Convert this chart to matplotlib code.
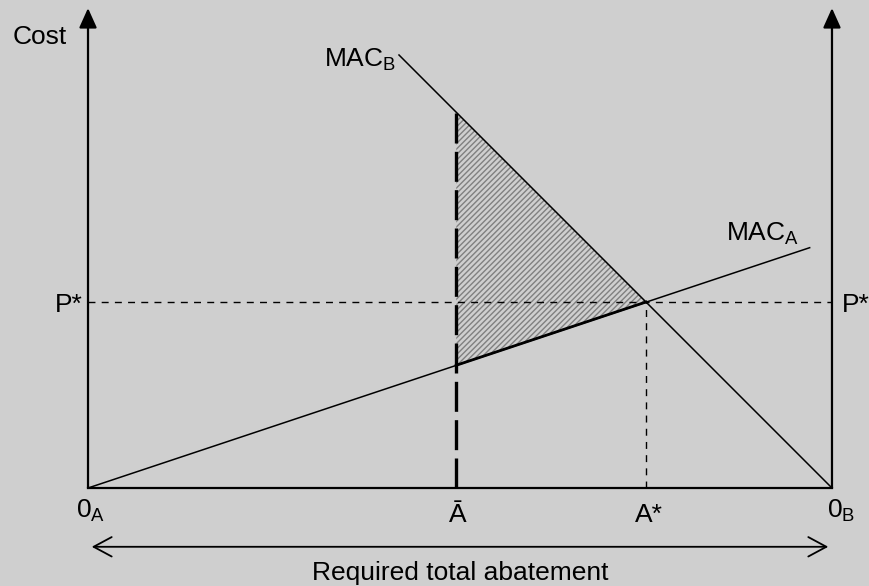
import matplotlib
matplotlib.use("Agg")
import matplotlib.pyplot as plt
from matplotlib.patches import FancyArrowPatch, Polygon

# values (0_A = 0, 0_B = 100)
x_left, x_right = 0, 100
a_bar = 49.5
a_star = 75
p_star = 25
mac_a_x = [0, 97]
mac_a_y = [0, 32.3]
mac_b_x = [41.8, 100]
mac_b_y = [58.2, 0]
triangle = [(49.5, 50.5), (75, 25), (49.5, 16.5)]
axis_top = 64.5

plt.rcParams["font.family"] = ["Liberation Sans", "DejaVu Sans"]
plt.rcParams["mathtext.fontset"] = "custom"
plt.rcParams["mathtext.rm"] = "Liberation Sans"
plt.rcParams["hatch.linewidth"] = 1.0

bg = "#cfcfcf"
fig = plt.figure(figsize=(8.7, 5.86), dpi=100, facecolor=bg)
ax = fig.add_axes([0, 0, 1, 1], facecolor=bg)
ax.set_xlim(-11.83, 105.11)
ax.set_ylim(-13.17, 65.59)
ax.axis("off")

# shaded triangle
ax.add_patch(Polygon(triangle, closed=True, facecolor=bg, edgecolor="#808080",
                     lw=0, hatch="//////", zorder=1))

# vertical axes with filled arrowheads
for xv in (x_left, x_right):
    ax.add_patch(FancyArrowPatch((xv, 0), (xv, axis_top),
                                 arrowstyle="-|>,head_length=12,head_width=5.4",
                                 mutation_scale=1, lw=1.6, color="k",
                                 shrinkA=0, shrinkB=0, zorder=4))
ax.plot([x_left, x_right], [0, 0], color="k", lw=1.6, zorder=4)

# P* and A* guides
ax.plot([x_left, x_right], [p_star, p_star], color="k", lw=1.0,
        dashes=(5, 4.5), zorder=2)
ax.plot([a_star, a_star], [0, p_star], color="k", lw=1.0,
        dashes=(5, 4.5), zorder=2)

# MAC curves
ax.plot(mac_a_x, mac_a_y, color="k", lw=1.1, zorder=3)
ax.plot(mac_b_x, mac_b_y, color="k", lw=1.1, zorder=3)
ax.plot([triangle[2][0], triangle[1][0]], [triangle[2][1], triangle[1][1]],
        color="k", lw=2.0, zorder=3)

# A-bar heavy dashed line
ax.plot([a_bar, a_bar], [0, triangle[0][1]], color="k", lw=2.4,
        dashes=(9, 2.5), zorder=3)

# bottom double arrow
ax.add_patch(FancyArrowPatch((0.5, -7.9), (99.5, -7.9),
                             arrowstyle="<->,head_length=13,head_width=7",
                             mutation_scale=1, lw=1.3, color="k",
                             shrinkA=0, shrinkB=0))

fs = 19
ax.text(-10.2, 59.7, "Cost", fontsize=fs, ha="left", va="baseline")
ax.text(50, -12.4, "Required total abatement", fontsize=fs, ha="center", va="baseline")
ax.text(-0.7, 23.7, "P*", fontsize=fs, ha="right", va="baseline")
ax.text(101.35, 23.7, "P*", fontsize=fs, ha="left", va="baseline")
ax.text(85.75, 33.3, r"MAC$_\mathrm{A}$", fontsize=fs, ha="left", va="baseline")
ax.text(31.7, 56.6, r"MAC$_\mathrm{B}$", fontsize=fs, ha="left", va="baseline")
ax.text(-1.6, -3.9, r"0$_\mathrm{A}$", fontsize=fs, ha="left", va="baseline")
ax.text(99.3, -3.9, r"0$_\mathrm{B}$", fontsize=fs, ha="left", va="baseline")
ax.text(a_bar + 0.2, -4.6, "Ā", fontsize=fs, ha="center", va="baseline")
ax.text(73.5, -4.6, "A*", fontsize=fs, ha="left", va="baseline")

fig.savefig("out.png", dpi=100, facecolor=bg)
